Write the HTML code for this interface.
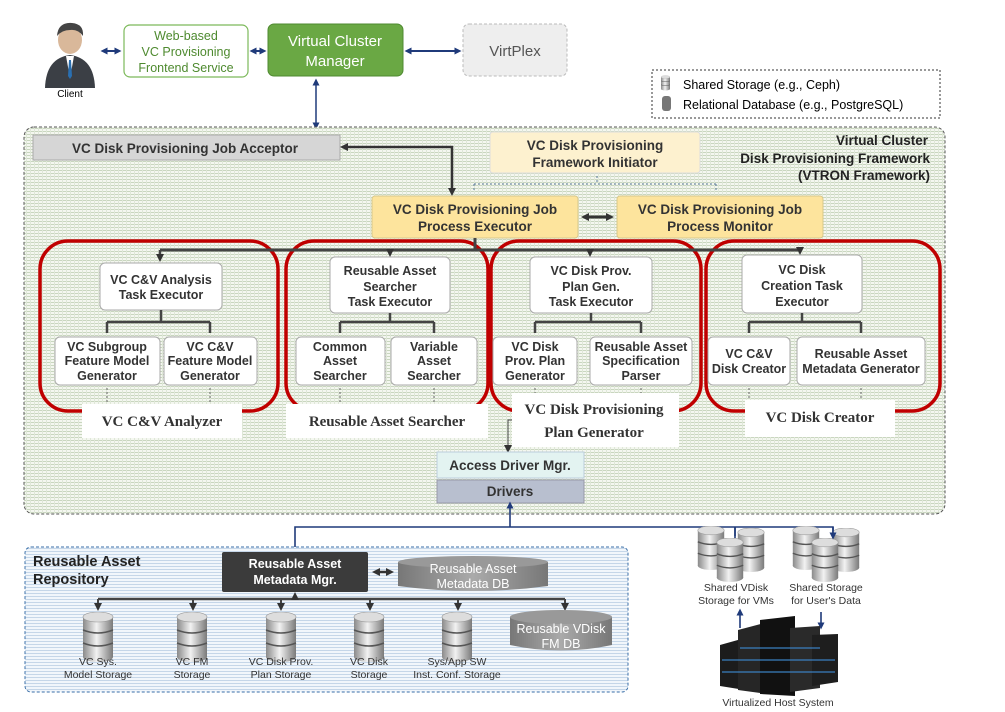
<!DOCTYPE html>
<html><head><meta charset="utf-8"><style>
body{margin:0;background:#fff}
svg{display:block}
text{font-family:"Liberation Sans",sans-serif}
.b{font-weight:bold}
g.s text,text.s{font-family:"Liberation Serif",serif;font-weight:bold}
</style></head><body>
<svg width="1005" height="712" viewBox="0 0 1005 712" xmlns="http://www.w3.org/2000/svg">
<defs>
<pattern id="hg" width="4" height="3" patternUnits="userSpaceOnUse"><rect width="4" height="3" fill="#f4f7f0"/><rect y="2" width="4" height="1" fill="#c9d6bf"/><rect x="2" width="1" height="3" fill="#dfe7d8"/></pattern>
<pattern id="hb" width="4" height="3" patternUnits="userSpaceOnUse"><rect width="4" height="3" fill="#f1f6fb"/><rect y="2" width="4" height="1" fill="#c5d6e8"/></pattern>
<linearGradient id="dg" x1="0" x2="1"><stop offset="0" stop-color="#8a8a8a"/><stop offset=".45" stop-color="#f2f2f2"/><stop offset="1" stop-color="#7a7a7a"/></linearGradient>
<linearGradient id="gg" x1="0" x2="1"><stop offset="0" stop-color="#777"/><stop offset=".5" stop-color="#aaa"/><stop offset="1" stop-color="#777"/></linearGradient>
<symbol id="disk" viewBox="0 0 30 50"><rect x="0" y="5" width="30" height="40" fill="url(#dg)"/><ellipse cx="15" cy="45" rx="15" ry="5" fill="url(#dg)"/><ellipse cx="15" cy="5" rx="15" ry="5" fill="#ddd" stroke="#999" stroke-width=".6"/><path d="M0 18 Q15 24 30 18 M0 31 Q15 37 30 31" stroke="#555" stroke-width="1.6" fill="none"/></symbol>
<marker id="ad" markerUnits="userSpaceOnUse" markerWidth="8" markerHeight="8" refX="4" refY="4" orient="auto"><path d="M0 0L8 4L0 8z" fill="#333"/></marker>
<marker id="ab" markerUnits="userSpaceOnUse" markerWidth="7" markerHeight="7" refX="3.5" refY="3.5" orient="auto-start-reverse"><path d="M0 0L7 3.5L0 7z" fill="#1f3a7a"/></marker>
<marker id="ak" markerUnits="userSpaceOnUse" markerWidth="8" markerHeight="8" refX="4" refY="4" orient="auto-start-reverse"><path d="M0 0L8 4L0 8z" fill="#333"/></marker>
</defs>

<!-- client -->
<ellipse cx="70" cy="40" rx="12" ry="14" fill="#d9b89a"/>
<path d="M57 36 Q58 22 72 23 Q84 24 83 36 Q78 29 70 30 Q62 30 57 36z" fill="#444"/>
<path d="M45 88 Q46 58 70 55 Q94 58 95 88z" fill="#3b3f45"/>
<path d="M66 56 L70 78 L74 56z" fill="#fff"/><path d="M69 60 L71 60 L72 76 L70 79 L68 76z" fill="#2a6fb0"/>
<text x="70" y="97" font-size="10" text-anchor="middle">Client</text>
<path d="M104 51H118" stroke="#1f3a7a" stroke-width="2" marker-start="url(#ab)" marker-end="url(#ab)"/>
<rect x="124" y="25" width="124" height="52" rx="6" fill="#fff" stroke="#7cb95a" stroke-width="1.2"/>
<text font-size="12.5" fill="#4e8a2f" text-anchor="middle"><tspan x="186" y="40">Web-based</tspan><tspan x="186" y="56">VC Provisioning</tspan><tspan x="186" y="72">Frontend Service</tspan></text>
<path d="M253 51H263" stroke="#1f3a7a" stroke-width="2" marker-start="url(#ab)" marker-end="url(#ab)"/>
<rect x="268" y="24" width="135" height="52" rx="6" fill="#6aa844" stroke="#4f8a30"/>
<text font-size="15" fill="#fff" text-anchor="middle"><tspan x="335" y="46">Virtual Cluster</tspan><tspan x="335" y="66">Manager</tspan></text>
<path d="M408 51H458" stroke="#1f3a7a" stroke-width="2" marker-start="url(#ab)" marker-end="url(#ab)"/>
<rect x="463" y="24" width="104" height="52" rx="6" fill="#eee" stroke="#bbb" stroke-dasharray="3 2"/>
<text x="515" y="56" font-size="15" fill="#555" text-anchor="middle">VirtPlex</text>
<path d="M316 82V126" stroke="#1f3a7a" stroke-width="1.5" marker-start="url(#ab)" marker-end="url(#ab)"/>

<!-- legend -->
<rect x="652" y="70" width="288" height="48" fill="#fff" stroke="#333" stroke-dasharray="2 2"/>
<use href="#disk" x="661" y="75" width="9" height="16"/>
<text x="683" y="89" font-size="12.5">Shared Storage (e.g., Ceph)</text>
<rect x="662" y="96" width="9" height="15" rx="3" fill="#777"/>
<text x="683" y="109" font-size="12.5">Relational Database (e.g., PostgreSQL)</text>

<!-- framework -->
<rect x="24" y="127" width="921" height="387" rx="10" fill="url(#hg)" stroke="#555" stroke-dasharray="3 2"/>
<rect x="33" y="135" width="307" height="25" fill="#d6d6d6" stroke="#aaa"/>
<text x="185" y="153" font-size="13.5" class="b" fill="#333" text-anchor="middle">VC Disk Provisioning Job  Acceptor</text>
<rect x="490" y="132" width="210" height="41" rx="3" fill="#fdf1cf" stroke="#ddd"/>
<text font-size="13.5" class="b" fill="#333" text-anchor="middle"><tspan x="595" y="150">VC Disk Provisioning</tspan><tspan x="595" y="167">Framework Initiator</tspan></text>
<text font-size="13.5" class="b" fill="#222" text-anchor="end"><tspan x="928" y="145">Virtual Cluster</tspan><tspan x="930" y="163">Disk Provisioning Framework</tspan><tspan x="930" y="180">(VTRON Framework)</tspan></text>
<path d="M344 147H452V192" stroke="#333" stroke-width="2.5" fill="none" marker-start="url(#ak)" marker-end="url(#ak)"/>
<path d="M597 176V184M474 184H716M474 184V192M716 184V192" stroke="#5a7a9a" stroke-dasharray="2 2" fill="none"/>
<rect x="372" y="196" width="206" height="42" rx="3" fill="#fde49d" stroke="#d8c88a"/>
<text font-size="13.5" class="b" fill="#333" text-anchor="middle"><tspan x="475" y="214">VC Disk Provisioning Job</tspan><tspan x="475" y="231">Process Executor</tspan></text>
<rect x="617" y="196" width="206" height="42" rx="3" fill="#fde49d" stroke="#d8c88a"/>
<text font-size="13.5" class="b" fill="#333" text-anchor="middle"><tspan x="720" y="214">VC Disk Provisioning Job</tspan><tspan x="720" y="231">Process Monitor</tspan></text>
<path d="M585 217H610" stroke="#333" stroke-width="3" marker-start="url(#ak)" marker-end="url(#ak)"/>

<!-- red groups -->
<g fill="none" stroke="#c00000" stroke-width="3.5">
<rect x="40" y="241" width="238" height="170" rx="28"/>
<rect x="286" y="241" width="202" height="170" rx="28"/>
<rect x="491" y="241" width="210" height="170" rx="28"/>
<rect x="706" y="241" width="234" height="170" rx="28"/>
</g>
<path d="M475 238V250M160 250H800" stroke="#444" stroke-width="3" fill="none"/>
<g stroke="#444" stroke-width="2.5" marker-end="url(#ad)"><path d="M160 250V258"/><path d="M390 250V253"/><path d="M590 250V253"/><path d="M800 250V251"/></g>

<g fill="#fff" stroke="#aaa" stroke-width="1">
<rect x="100" y="263" width="122" height="47" rx="5"/>
<rect x="330" y="257" width="120" height="56" rx="5"/>
<rect x="530" y="257" width="122" height="56" rx="5"/>
<rect x="742" y="255" width="120" height="58" rx="5"/>
<rect x="55" y="337" width="105" height="48" rx="5"/><rect x="164" y="337" width="93" height="48" rx="5"/>
<rect x="296" y="337" width="89" height="48" rx="5"/><rect x="391" y="337" width="86" height="48" rx="5"/>
<rect x="493" y="337" width="84" height="48" rx="5"/><rect x="590" y="337" width="102" height="48" rx="5"/>
<rect x="708" y="337" width="82" height="48" rx="5"/><rect x="797" y="337" width="128" height="48" rx="5"/>
</g>
<g font-size="12.5" class="b" fill="#333" text-anchor="middle">
<text><tspan x="161" y="284">VC C&amp;V Analysis</tspan><tspan x="161" y="299">Task Executor</tspan></text>
<text><tspan x="390" y="275">Reusable Asset</tspan><tspan x="390" y="291">Searcher</tspan><tspan x="390" y="306">Task Executor</tspan></text>
<text><tspan x="591" y="275">VC Disk Prov.</tspan><tspan x="591" y="291">Plan Gen.</tspan><tspan x="591" y="306">Task Executor</tspan></text>
<text><tspan x="802" y="274">VC Disk</tspan><tspan x="802" y="290">Creation Task</tspan><tspan x="802" y="306">Executor</tspan></text>
<text><tspan x="107" y="351">VC Subgroup</tspan><tspan x="107" y="365">Feature Model</tspan><tspan x="107" y="380">Generator</tspan></text>
<text><tspan x="210" y="351">VC C&amp;V</tspan><tspan x="210" y="365">Feature Model</tspan><tspan x="210" y="380">Generator</tspan></text>
<text><tspan x="340" y="351">Common</tspan><tspan x="340" y="365">Asset</tspan><tspan x="340" y="380">Searcher</tspan></text>
<text><tspan x="434" y="351">Variable</tspan><tspan x="434" y="365">Asset</tspan><tspan x="434" y="380">Searcher</tspan></text>
<text><tspan x="535" y="351">VC Disk</tspan><tspan x="535" y="365">Prov. Plan</tspan><tspan x="535" y="380">Generator</tspan></text>
<text><tspan x="641" y="351">Reusable Asset</tspan><tspan x="641" y="365">Specification</tspan><tspan x="641" y="380">Parser</tspan></text>
<text><tspan x="749" y="358">VC C&amp;V</tspan><tspan x="749" y="373">Disk Creator</tspan></text>
<text><tspan x="861" y="358">Reusable Asset</tspan><tspan x="861" y="373">Metadata Generator</tspan></text>
</g>
<g stroke="#444" stroke-width="2.5" fill="none">
<path d="M161 310V322M107 322H210M107 322V333M210 322V333"/>
<path d="M390 313V322M340 322H434M340 322V333M434 322V333"/>
<path d="M591 313V322M535 322H641M535 322V333M641 322V333"/>
<path d="M802 313V322M749 322H861M749 322V333M861 322V333"/>
</g>
<g stroke="#666" stroke-dasharray="2 2"><path d="M107 388V405M210 388V405M340 388V405M434 388V405M535 388V405M641 388V405M749 388V405M861 388V405"/></g>

<g fill="#fff">
<rect x="82" y="404" width="160" height="34"/><rect x="286" y="404" width="202" height="34"/>
<rect x="512" y="393" width="167" height="54"/><rect x="745" y="400" width="150" height="37"/>
</g>
<g class="s" font-size="15" fill="#333" text-anchor="middle">
<text x="162" y="426">VC C&amp;V Analyzer</text>
<text x="387" y="426">Reusable Asset Searcher</text>
<text x="594" y="414">VC Disk Provisioning</text><text x="594" y="437">Plan Generator</text>
<text x="820" y="422">VC Disk Creator</text>
</g>
<path d="M512 420H508V449" stroke="#444" fill="none" marker-end="url(#ad)"/>
<rect x="437" y="452" width="147" height="26" fill="#e3f3f1" stroke="#bcd"/>
<text x="510" y="470" font-size="13.5" class="b" fill="#333" text-anchor="middle">Access Driver Mgr.</text>
<rect x="437" y="480" width="147" height="23" fill="#b8bfcf" stroke="#99a"/>
<text x="510" y="496" font-size="13.5" class="b" fill="#333" text-anchor="middle">Drivers</text>

<!-- blue connectors -->
<path d="M510 507V527H295V548M510 527H833V538M735 527V538" stroke="#1f3a7a" stroke-width="1.6" fill="none"/>
<path d="M510 505V508" stroke="#1f3a7a" stroke-width="1.6" marker-start="url(#ab)"/>

<!-- repository -->
<rect x="25" y="547" width="603" height="145" rx="6" fill="url(#hb)" stroke="#3a6fa8" stroke-dasharray="3 2"/>
<text font-size="14.5" class="b" fill="#222"><tspan x="33" y="566">Reusable Asset</tspan><tspan x="33" y="584">Repository</tspan></text>
<rect x="222" y="552" width="146" height="40" rx="2" fill="#3b3b3b"/>
<text font-size="12.5" class="b" fill="#fff" text-anchor="middle"><tspan x="295" y="568">Reusable Asset</tspan><tspan x="295" y="584">Metadata Mgr.</tspan></text>
<path d="M376 572H390" stroke="#333" stroke-width="2.5" marker-start="url(#ak)" marker-end="url(#ak)"/>
<path d="M398 562V586Q473 596 548 586V562z" fill="url(#gg)"/><ellipse cx="473" cy="562" rx="75" ry="6" fill="#999"/>
<text font-size="12.5" fill="#fff" text-anchor="middle"><tspan x="473" y="573">Reusable Asset</tspan><tspan x="473" y="588">Metadata DB</tspan></text>
<path d="M98 599H565" stroke="#444" stroke-width="2.5" fill="none"/>
<path d="M295 596V600" stroke="#444" stroke-width="2" marker-start="url(#ak)"/>
<g stroke="#444" stroke-width="2" marker-end="url(#ad)"><path d="M98 599V607"/><path d="M193 599V607"/><path d="M281 599V607"/><path d="M370 599V607"/><path d="M458 599V607"/><path d="M565 599V607"/></g>
<use href="#disk" x="82" y="612" width="32" height="50"/>
<use href="#disk" x="176" y="612" width="32" height="50"/>
<use href="#disk" x="265" y="612" width="32" height="50"/>
<use href="#disk" x="353" y="612" width="32" height="50"/>
<use href="#disk" x="441" y="612" width="32" height="50"/>
<path d="M510 617V645Q561 656 612 645V617z" fill="url(#gg)"/><ellipse cx="561" cy="617" rx="51" ry="7" fill="#999"/>
<text font-size="12.5" fill="#fff" text-anchor="middle"><tspan x="561" y="633">Reusable VDisk</tspan><tspan x="561" y="648">FM DB</tspan></text>
<g font-size="10.5" fill="#333" text-anchor="middle">
<text><tspan x="98" y="665">VC Sys.</tspan><tspan x="98" y="678">Model Storage</tspan></text>
<text><tspan x="192" y="665">VC FM</tspan><tspan x="192" y="678">Storage</tspan></text>
<text><tspan x="281" y="665">VC Disk Prov.</tspan><tspan x="281" y="678">Plan Storage</tspan></text>
<text><tspan x="369" y="665">VC Disk</tspan><tspan x="369" y="678">Storage</tspan></text>
<text><tspan x="457" y="665">Sys/App SW</tspan><tspan x="457" y="678">Inst. Conf. Storage</tspan></text>
</g>

<!-- shared storage -->
<use href="#disk" x="694" y="526" width="34" height="44"/><use href="#disk" x="734" y="528" width="34" height="44"/><use href="#disk" x="713" y="538" width="34" height="44"/>
<use href="#disk" x="789" y="526" width="34" height="44"/><use href="#disk" x="829" y="528" width="34" height="44"/><use href="#disk" x="808" y="538" width="34" height="44"/>
<path d="M735 527V536M833 527V536" stroke="#1f3a7a" stroke-width="1.6" marker-end="url(#ab)"/>
<g font-size="10.5" fill="#333" text-anchor="middle">
<text><tspan x="736" y="591">Shared VDisk</tspan><tspan x="736" y="604">Storage for VMs</tspan></text>
<text><tspan x="826" y="591">Shared Storage</tspan><tspan x="826" y="604">for User's Data</tspan></text>
<text x="778" y="706">Virtualized Host System</text>
</g>
<path d="M740 612V628M821 612V626" stroke="#1f3a7a" stroke-width="1.6" marker-start="url(#ab)" marker-end="url(#ab)"/>
<g>
<path d="M720 645L745 638V690L720 686z" fill="#1c1c1c"/>
<path d="M738 630L768 622V694L738 690z" fill="#262626"/>
<path d="M760 620L795 616V696L760 694z" fill="#111"/>
<path d="M790 628L820 626V688L790 692z" fill="#2a2a2a"/>
<path d="M812 635L838 634V682L812 686z" fill="#1e1e1e"/>
<g stroke="#3a7fc0" stroke-width="1.2"><path d="M722 660H835M722 672H835M740 648H820"/></g>
</g>
</svg>
</body></html>
